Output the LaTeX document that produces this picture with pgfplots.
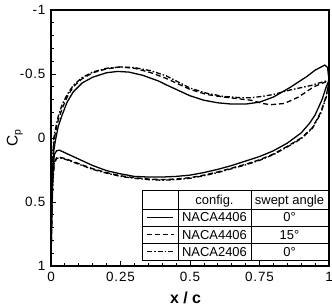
\documentclass[border=0pt]{standalone}
\usepackage{pgfplots}
\pgfplotsset{compat=1.18}
\usepackage{fontspec}
\setmainfont{Liberation Sans}
\newfontfamily\tickfont[LetterSpace=6]{Liberation Sans}
\begin{document}
\begin{tikzpicture}
\useasboundingbox (-51bp,-42bp) rectangle (281bp,266bp);
\begin{axis}[
  scale only axis, width=278bp, height=256bp,
  xmin=0, xmax=1, ymin=-1, ymax=1, y dir=reverse,
  xtick={0,0.25,0.5,0.75,1}, xticklabels={0,0.25,0.5,0.75,1},
  ytick={-1,-0.5,0,0.5,1}, yticklabels={-1,-0.5,0,0.5,1},
  minor x tick num=4, minor y tick num=4,
  tick align=inside, xtick pos=left, ytick pos=left,
  major tick length=5bp, minor tick length=3bp,
  axis line style={line width=1.4bp},
  every tick/.style={black, line width=0.8bp},
  tick label style={font=\tickfont\fontsize{13.5}{15}\selectfont},
  xticklabel style={yshift=-3bp},
  yticklabel style={xshift=-2bp},
  xlabel={\textbf{x / c}},
  xlabel style={font=\fontsize{16}{18}\selectfont, at={(axis description cs:0.484,-0.125)}, anchor=center},
  ylabel={C\raisebox{-0.35ex}{\fontsize{10.5}{12}\selectfont p}},
  ylabel style={font=\fontsize{15.5}{17}\selectfont, at={(axis description cs:-0.13,0.5)}, anchor=center, rotate=0},
  every axis plot/.append style={line width=1.3bp, black},
]
% NACA4406 0deg upper
\addplot[solid] coordinates {
(0.000,1.0) (0.002,0.6) (0.005,0.3) (0.010,0.10) (0.015,0.03) (0.026,-0.09) (0.04,-0.18) (0.058,-0.28) (0.08,-0.36) (0.112,-0.43) (0.15,-0.475) (0.20,-0.51) (0.24,-0.52) (0.28,-0.515) (0.33,-0.49) (0.387,-0.445) (0.42,-0.41) (0.46,-0.37) (0.50,-0.33) (0.55,-0.295) (0.60,-0.275) (0.65,-0.265) (0.70,-0.265) (0.75,-0.28) (0.80,-0.32) (0.86,-0.395) (0.92,-0.48) (0.95,-0.53) (0.985,-0.57) (0.995,-0.55) (1.0,-0.45)};
% NACA4406 0deg lower
\addplot[solid] coordinates {
(0.000,1.0) (0.003,0.55) (0.007,0.25) (0.012,0.13) (0.02,0.10) (0.03,0.095) (0.05,0.115) (0.1,0.165) (0.15,0.215) (0.2,0.255) (0.25,0.28) (0.3,0.30) (0.35,0.305) (0.4,0.305) (0.45,0.30) (0.5,0.29) (0.55,0.27) (0.6,0.245) (0.65,0.215) (0.7,0.18) (0.75,0.145) (0.8,0.10) (0.85,0.04) (0.9,-0.04) (0.93,-0.115) (0.95,-0.18) (0.975,-0.30) (0.99,-0.40) (1.0,-0.45)};
% NACA4406 15deg upper
\addplot[dash pattern=on 5bp off 3bp] coordinates {
(0.000,1.0) (0.002,0.55) (0.005,0.25) (0.010,0.04) (0.015,-0.03) (0.026,-0.14) (0.04,-0.23) (0.058,-0.32) (0.08,-0.40) (0.11,-0.46) (0.15,-0.51) (0.20,-0.54) (0.25,-0.555) (0.30,-0.545) (0.36,-0.51) (0.415,-0.465) (0.46,-0.42) (0.50,-0.38) (0.56,-0.34) (0.62,-0.32) (0.68,-0.305) (0.72,-0.295) (0.76,-0.27) (0.79,-0.26) (0.84,-0.27) (0.89,-0.32) (0.945,-0.40) (0.99,-0.44) (1.0,-0.44)};
% NACA4406 15deg lower
\addplot[dash pattern=on 5bp off 3bp] coordinates {
(0.000,1.0) (0.003,0.6) (0.007,0.32) (0.012,0.19) (0.02,0.155) (0.03,0.15) (0.05,0.16) (0.1,0.20) (0.15,0.24) (0.2,0.27) (0.25,0.295) (0.3,0.31) (0.35,0.32) (0.4,0.325) (0.45,0.32) (0.5,0.31) (0.55,0.29) (0.6,0.265) (0.65,0.235) (0.7,0.205) (0.75,0.17) (0.8,0.125) (0.85,0.065) (0.9,0.0) (0.94,-0.08) (0.97,-0.20) (0.99,-0.33) (1.0,-0.44)};
% NACA2406 0deg upper
\addplot[dash pattern=on 5bp off 2bp on 1.5bp off 2bp] coordinates {
(0.000,1.0) (0.002,0.5) (0.005,0.2) (0.010,0.0) (0.015,-0.06) (0.026,-0.17) (0.04,-0.26) (0.058,-0.34) (0.08,-0.41) (0.11,-0.47) (0.15,-0.515) (0.20,-0.545) (0.25,-0.555) (0.30,-0.55) (0.36,-0.525) (0.415,-0.485) (0.46,-0.435) (0.50,-0.39) (0.56,-0.35) (0.62,-0.325) (0.68,-0.315) (0.72,-0.315) (0.76,-0.325) (0.80,-0.34) (0.86,-0.375) (0.935,-0.41) (0.98,-0.44) (1.0,-0.45)};
% NACA2406 0deg lower
\addplot[dash pattern=on 5bp off 2bp on 1.5bp off 2bp] coordinates {
(0.000,1.0) (0.003,0.6) (0.007,0.33) (0.012,0.20) (0.02,0.16) (0.03,0.155) (0.05,0.165) (0.1,0.205) (0.15,0.245) (0.2,0.275) (0.25,0.30) (0.3,0.315) (0.35,0.325) (0.4,0.33) (0.45,0.325) (0.5,0.315) (0.55,0.295) (0.6,0.27) (0.65,0.24) (0.7,0.21) (0.75,0.175) (0.8,0.13) (0.85,0.07) (0.9,0.005) (0.94,-0.075) (0.97,-0.19) (0.99,-0.32) (1.0,-0.44)};
\end{axis}
% legend table
\fill[white] (91bp,6bp) rectangle (277bp,76bp);
\draw[line width=0.9bp] (91bp,6bp) rectangle (277bp,76bp);
\draw[line width=0.9bp] (127bp,6bp) -- (127bp,76bp) (200bp,6bp) -- (200bp,76bp);
\draw[line width=0.9bp] (91bp,57bp) -- (277bp,57bp) (91bp,40bp) -- (277bp,40bp) (91bp,23bp) -- (277bp,23bp);
\draw[line width=1.2bp] (96bp,48.5bp) -- (122bp,48.5bp);
\draw[line width=1.2bp, dash pattern=on 5bp off 3bp] (96bp,31.5bp) -- (123bp,31.5bp);
\draw[line width=1.2bp, dash pattern=on 5bp off 2bp on 1.5bp off 2bp] (96bp,14.5bp) -- (123bp,14.5bp);
\begin{scope}[every node/.style={font=\fontsize{13}{15}\selectfont, inner sep=0pt, anchor=base}]
\node at (163.5bp,61.5bp) {config.};
\node at (238.5bp,61.5bp) {swept angle};
\node at (163.5bp,44bp) {NACA4406};
\node at (163.5bp,27bp) {NACA4406};
\node at (163.5bp,10bp) {NACA2406};
\node at (238.5bp,44bp) {0\textdegree};
\node at (238.5bp,27bp) {15\textdegree};
\node at (238.5bp,10bp) {0\textdegree};
\end{scope}
\end{tikzpicture}
\end{document}
